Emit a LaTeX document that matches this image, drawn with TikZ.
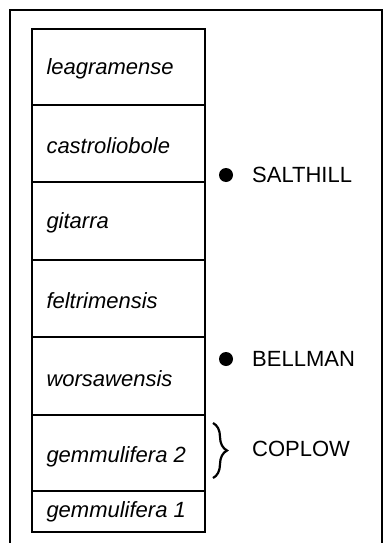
\documentclass[tikz,border=0pt]{standalone}
\usepackage{fontspec}
\setmainfont{Liberation Sans}
\usetikzlibrary{decorations.pathreplacing}

\begin{document}
\begin{tikzpicture}[x=1pt, y=-1pt,
    zone/.style={draw, line width=1.4pt, minimum width=173pt, inner sep=0pt},
    taxon/.style={anchor=west, inner sep=0pt, font=\fontsize{22}{24}\selectfont\itshape},
    site/.style={anchor=west, inner sep=0pt, font=\fontsize{22}{24}\selectfont},
    sitedot/.style={circle, fill=black, minimum size=14pt, inner sep=0pt}]
                \useasboundingbox (0,0) rectangle (383,543);

                % Outer frame
                \draw[line width=2pt] (9.5,545) -- (9.5,10.5) -- (381.5,10.5) -- (381.5,545);

                % Define zones of the column
                \node[zone, minimum height=76pt] (leag) at (118.5,67) {};
                \node[zone, minimum height=77pt] (castro) at (118.5,143.5) {};
                \node[zone, minimum height=78pt] (gitarra) at (118.5,221) {};
                \node[zone, minimum height=77pt] (feltri) at (118.5,298.5) {};
                \node[zone, minimum height=78pt] (worsa) at (118.5,376) {};
                \node[zone, minimum height=76pt] (gemmB) at (118.5,453) {};
                \node[zone, minimum height=41pt] (gemmA) at (118.5,511.5) {};

                % Zone names
                \node[taxon] (leagT) at ([xshift=15pt, yshift=-2pt]leag.west) {leagramense};
                \node[taxon] (castroT) at ([xshift=15pt, yshift=-2pt]castro.west) {castroliobole};
                \node[taxon] (gitarraT) at ([xshift=15pt, yshift=-2pt]gitarra.west) {gitarra};
                \node[taxon] (feltriT) at ([xshift=15pt, yshift=-2pt]feltri.west) {feltrimensis};
                \node[taxon] (worsaT) at ([xshift=15pt, yshift=-3pt]worsa.west) {worsawensis};
                \node[taxon] (gemmBT) at ([xshift=15pt, yshift=-4pt]gemmB.west) {gemmulifera 2};
                \node[taxon] (gemmAT) at ([xshift=15pt, yshift=0pt]gemmA.west) {gemmulifera 1};

                % Localities
                \node[sitedot] (salthillDot) at (226,175) {};
                \node[site] (salthill) at (252,175) {SALTHILL};
                \node[sitedot] (bellmanDot) at (226,359) {};
                \node[site] (bellman) at (252,359) {BELLMAN};

                \coordinate (coplowTop) at (213,423);
                \coordinate (coplowBot) at (213,478);
                \draw[decorate, decoration={brace, amplitude=14pt}, line width=2.2pt] (coplowTop) -- (coplowBot);
                \node[site] (coplow) at (252,449) {COPLOW};
            \end{tikzpicture}
\end{document}
